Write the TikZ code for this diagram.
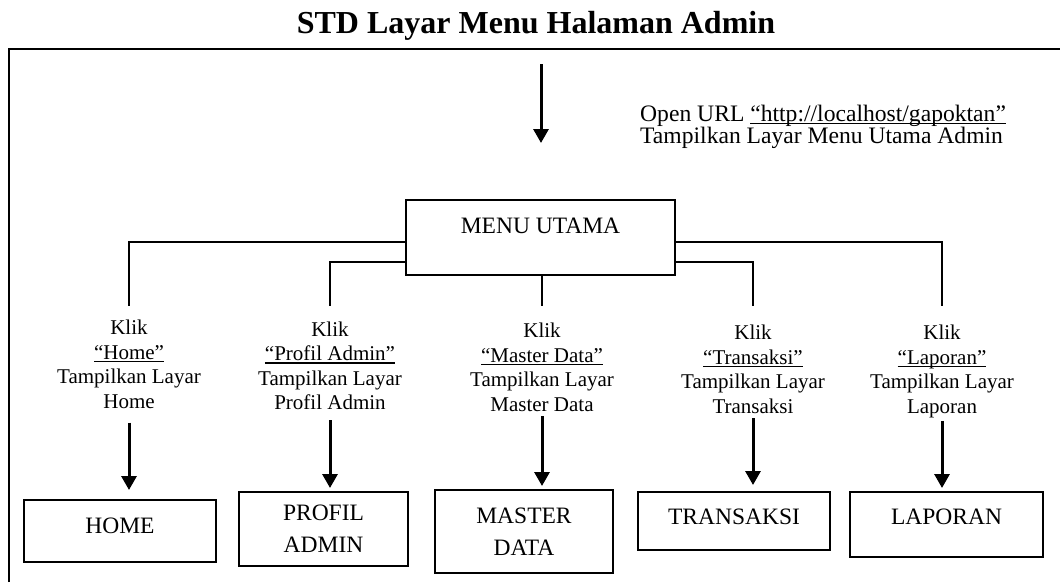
\documentclass[tikz,border=0pt]{standalone}
\usepackage{fontspec}
\setmainfont{Liberation Serif}
\usetikzlibrary{arrows.meta}
\newcommand{\tightlines}{\lineskiplimit=-20pt\relax}
\newcommand{\myul}[1]{\setbox0=\hbox{#1}\rlap{\rule[-0.13em]{\wd0}{0.06em}}\box0}
\begin{document}
\begin{tikzpicture}[x=1pt,y=-1pt,
  conn/.style={line width=2pt},
  arr/.style={line width=3pt,-{Triangle[width=15pt,length=14pt]}},
  stbox/.style={draw,line width=2pt,inner sep=0pt,anchor=north west,font=\fontsize{23.5}{32}\selectfont},
  lbltxt/.style={inner sep=0pt,anchor=north,align=center,font=\fontsize{21}{24.5}\selectfont\tightlines},
]
\useasboundingbox (0,0) rectangle (1060,582);
\node[font=\bfseries\fontsize{32}{36}\selectfont,anchor=base,inner sep=0pt] (title) at (536,33) {STD Layar Menu Halaman Admin};
\draw[line width=2pt] (9,582) -- (9,49) -- (1060,49);

\node[stbox, minimum width=269pt, text height=33pt, text depth=42pt] (menu) at (405,199) {MENU UTAMA};

\coordinate (start) at (541,64);
\coordinate (enter) at (541,143);
\draw[arr] (start) -- (enter);
\node[anchor=north west,inner sep=0pt,align=left,font=\fontsize{23.6}{22}\selectfont\tightlines] (url) at (640,104.6) {Open URL \myul{“http://localhost/gapoktan”}\\Tampilkan Layar Menu Utama Admin};

\node[lbltxt] (lHome) at (129,320) {Klik\\\myul{“Home”}\\Tampilkan Layar\\Home};
\node[lbltxt] (lProfil) at (330,321.5) {Klik\\\myul{“Profil Admin”}\\Tampilkan Layar\\Profil Admin};
\node[lbltxt] (lMaster) at (542,323) {Klik\\\myul{“Master Data”}\\Tampilkan Layar\\Master Data};
\node[lbltxt] (lTrans) at (753,325) {Klik\\\myul{“Transaksi”}\\Tampilkan Layar\\Transaksi};
\node[lbltxt] (lLap) at (942,325) {Klik\\\myul{“Laporan”}\\Tampilkan Layar\\Laporan};

\coordinate (h1) at (0,242);
\coordinate (h2) at (0,262);
\draw[conn, shorten >=14pt] (menu.west |- h1) -| (lHome.north);
\draw[conn, shorten >=15.5pt] (menu.west |- h2) -| (lProfil.north);
\draw[conn, shorten >=17pt] (menu.south -| lMaster.north) -- (lMaster.north);
\draw[conn, shorten >=19pt] (menu.east |- h2) -| (lTrans.north);
\draw[conn, shorten >=19pt] (menu.east |- h1) -| (lLap.north);

\node[stbox, minimum width=192pt, text height=33pt, text depth=29pt] (bHome) at (23,499) {HOME};
\node[stbox, minimum width=169pt, minimum height=74pt, align=center] (bProfil) at (238,491) {PROFIL\\ADMIN};
\node[stbox, minimum width=178pt, minimum height=83pt, align=center] (bMaster) at (434,489) {MASTER\\DATA};
\node[stbox, minimum width=192pt, text height=32pt, text depth=26pt] (bTrans) at (637,491) {TRANSAKSI};
\node[stbox, minimum width=193pt, text height=32pt, text depth=33pt] (bLap) at (849,491) {LAPORAN};

\draw[arr, shorten <=14pt, shorten >=9pt] (lHome.south) -- (lHome.south |- bHome.north);
\draw[arr, shorten <=10pt, shorten >=3pt] (lProfil.south) -- (lProfil.south |- bProfil.north);
\draw[arr, shorten <=4.5pt, shorten >=3pt] (lMaster.south) -- (lMaster.south |- bMaster.north);
\draw[arr, shorten <=4.5pt, shorten >=6pt] (lTrans.south) -- (lTrans.south |- bTrans.north);
\draw[arr, shorten <=3pt, shorten >=3pt] (lLap.south) -- (lLap.south |- bLap.north);
\end{tikzpicture}
\end{document}
